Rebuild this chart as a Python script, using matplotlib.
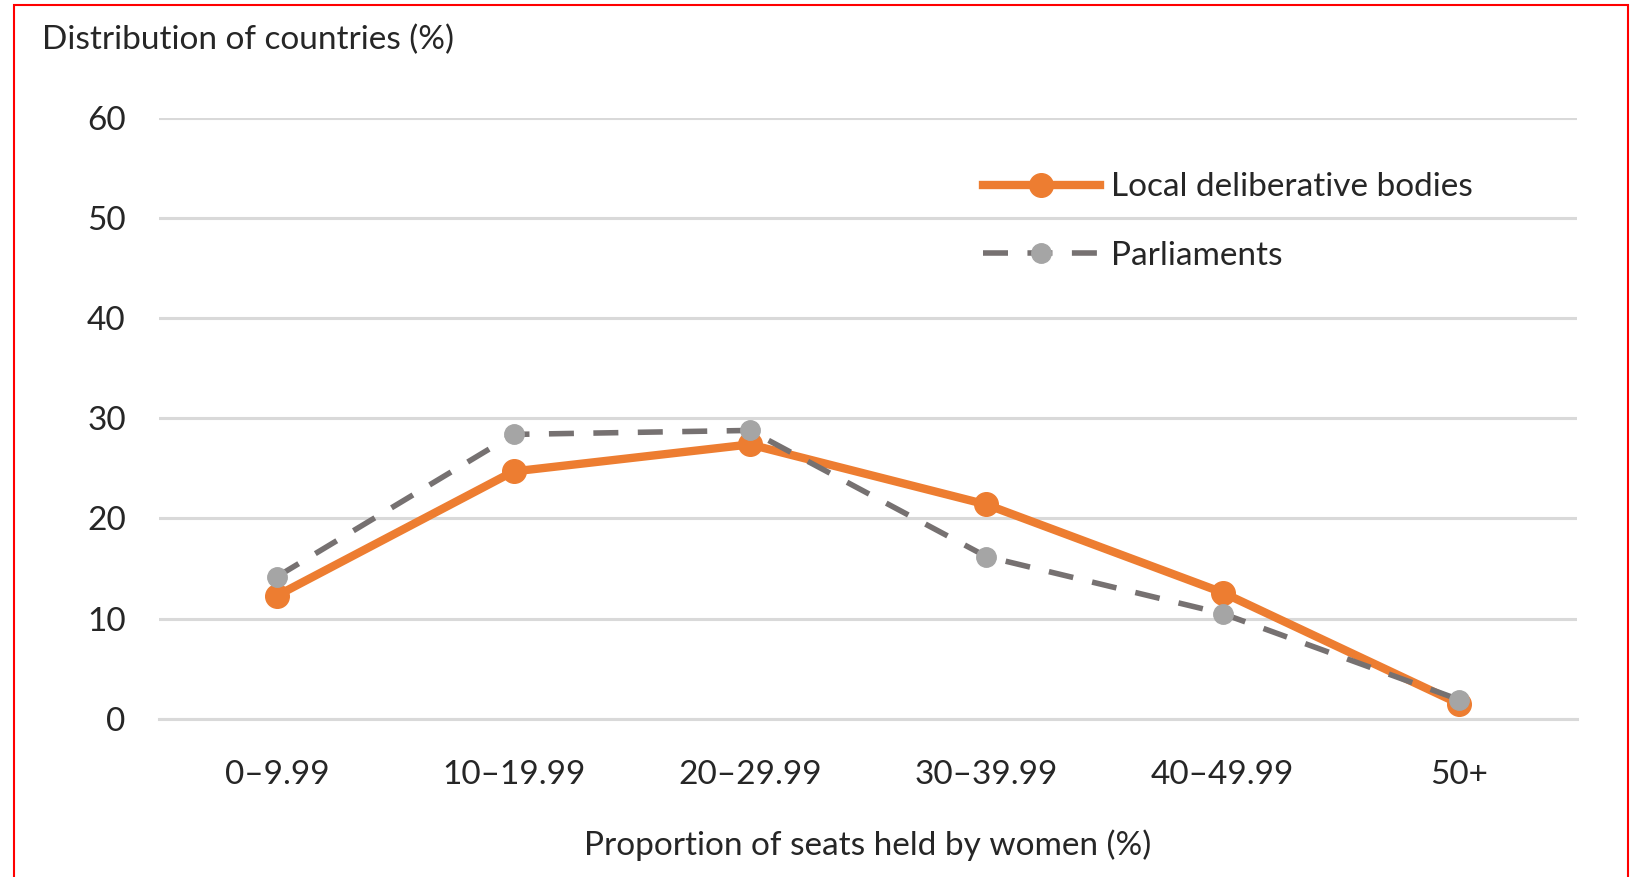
import matplotlib.pyplot as plt
from matplotlib.patches import Rectangle

categories = ['0–9.99', '10–19.99', '20–29.99', '30–39.99', '40–49.99', '50+']
local_bodies = [12.3, 24.7, 27.4, 21.4, 12.6, 1.5]
parliaments = [14.2, 28.4, 28.8, 16.2, 10.5, 1.9]
y_ticks = [0, 10, 20, 30, 40, 50, 60]

plt.rcParams['font.family'] = ['Lato', 'DejaVu Sans']
FS = 24
TXT = '#262626'

fig = plt.figure(figsize=(16.4, 8.77), dpi=100)
ax = fig.add_axes([0.097, 0.1806, 0.8646, 0.6846])

x = range(len(categories))
ax.plot(x, local_bodies, color='#ED7D31', lw=6, marker='o', markersize=17,
        label='Local deliberative bodies', zorder=3)
ax.plot(x, parliaments, color='#767171', lw=4, dashes=(4.5, 3.5), marker='o',
        markersize=14, markerfacecolor='#A5A5A5', markeredgecolor='#A5A5A5',
        label='Parliaments', zorder=4)

ax.set_xlim(-0.5, len(categories) - 0.5)
ax.set_ylim(0, 60)
ax.set_yticks(y_ticks)
ax.set_xticks(list(x))
ax.set_xticklabels(categories)
ax.yaxis.grid(True, color='#D9D9D9', lw=2.2)
ax.set_axisbelow(True)
for s in ax.spines.values():
    s.set_visible(False)
ax.spines['bottom'].set_visible(True)
ax.spines['bottom'].set_color('#D9D9D9')
ax.spines['bottom'].set_linewidth(2.2)
ax.tick_params(axis='both', length=0, labelsize=FS, colors=TXT)
ax.tick_params(axis='y', pad=24)
ax.tick_params(axis='x', pad=30)

ax.set_xlabel('Proportion of seats held by women (%)', fontsize=FS, color=TXT, labelpad=28)
fig.text(42 / 1640, 1 - 40 / 877, 'Distribution of countries (%)', fontsize=FS,
         color=TXT, ha='left', va='center')

leg = ax.legend(loc='upper left', bbox_to_anchor=(0.56, 0.96), frameon=False,
                fontsize=FS, handlelength=3.5, handletextpad=0.35, labelspacing=1.15)
for t in leg.get_texts():
    t.set_color(TXT)

fig.patches.append(Rectangle((14 / 1640, -0.02), 1620 / 1640 - 14 / 1640 + 0.005, 1.02 - 5 / 877,
                             transform=fig.transFigure, fill=False, edgecolor='#FF0000', lw=1.5))

fig.savefig('out.png', dpi=100)
